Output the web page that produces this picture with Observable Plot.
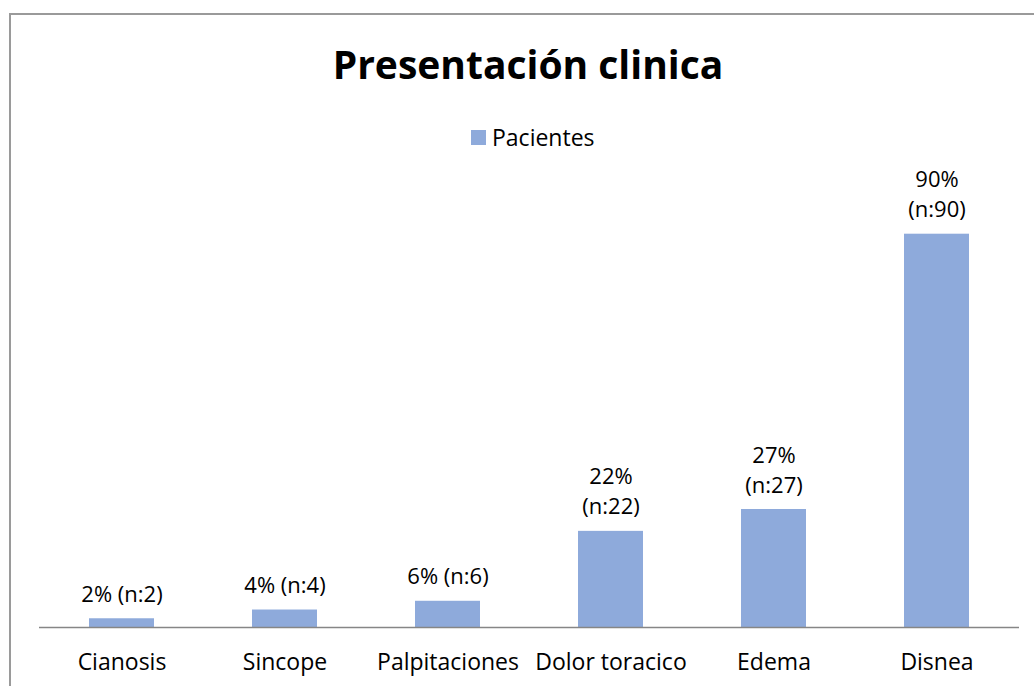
<!DOCTYPE html>
<html>
<head>
<meta charset="utf-8">
<script src="https://cdn.jsdelivr.net/npm/d3@7"></script>
<script src="https://cdn.jsdelivr.net/npm/@observablehq/plot@0.6"></script>
<style>
  html, body { margin: 0; padding: 0; background: #fff; overflow: hidden; }
  body { width: 1034px; height: 686px; position: relative; font-family: "Open Sans", sans-serif; }
  #frame { position: absolute; left: 9px; top: 13px; width: 1100px; height: 800px; border: 2px solid #9a9a9a; box-sizing: border-box; }
  #title { position: absolute; left: 0; width: 1056px; top: 38px; text-align: center; font-size: 39px; font-weight: bold; color: #000; line-height: 52px; }
  #legend { position: absolute; left: 471px; top: 122px; display: flex; align-items: center; font-size: 23px; color: #000; line-height: 30px; }
  #legend .sw { width: 15px; height: 15px; background: #8eaadb; margin-right: 6px; }
  #chart { position: absolute; left: 0; top: 160px; }
</style>
</head>
<body>
<div id="frame"></div>
<div id="title">Presentación clinica</div>
<div id="legend"><span class="sw"></span><span>Pacientes</span></div>
<div id="chart"></div>
<script>
const categories = ["Cianosis", "Sincope", "Palpitaciones", "Dolor toracico", "Edema", "Disnea"];
const percents = [2, 4, 6, 22, 27, 90];
const counts = [2, 4, 6, 22, 27, 90];
const seriesName = "Pacientes";

const data = categories.map((c, i) => ({
  category: c,
  value: percents[i],
  label: percents[i] >= 10 ? `${percents[i]}%\n(n:${counts[i]})` : `${percents[i]}% (n:${counts[i]})`
}));

const chart = Plot.plot({
  width: 1034,
  height: 526,
  marginLeft: 39,
  marginRight: 15,
  marginTop: 30,
  marginBottom: 59,
  style: { fontFamily: "'Open Sans', sans-serif", background: "transparent", overflow: "visible" },
  x: { domain: categories, paddingInner: 0.6, paddingOuter: 0.3, align: 0.5, label: null },
  y: { domain: [0, 100], axis: null },
  marks: [
    Plot.barY(data, { x: "category", y: "value", fill: "#8eaadb" }),
    Plot.ruleY([0], { stroke: "#868686", strokeWidth: 1.5 }),
    Plot.axisX({ tickSize: 0, tickPadding: 26, fontSize: 23, color: "#000", label: null }),
    Plot.text(data, { x: "category", y: "value", text: "label", lineAnchor: "bottom", dy: -17, fontSize: 22, lineHeight: 1.36, fill: "#000" })
  ]
});
document.getElementById("chart").appendChild(chart);
</script>
</body>
</html>
